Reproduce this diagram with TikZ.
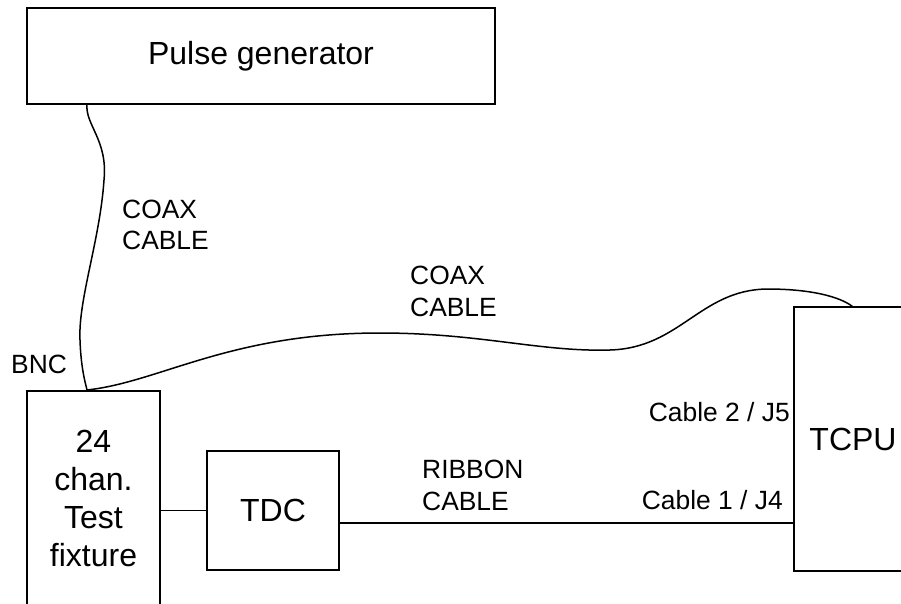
\documentclass[tikz,border=0pt]{standalone}
\usepackage{fontspec}
\setmainfont{Liberation Sans}
\usetikzlibrary{positioning}

\begin{document}
\begin{tikzpicture}[
  x=1pt, y=-1pt,
  box/.style={draw, line width=1.5pt, align=center, inner sep=0pt,
              font=\fontsize{32}{37.7}\selectfont},
  lbl/.style={inner sep=0pt, align=left, font=\fontsize{26.4}{31.5}\selectfont},
  cable/.style={line width=1.5pt}
]
\clip (0,0) rectangle (901,603);

\node[box, minimum width=468pt, minimum height=96pt] (pulse) at (261,56) {Pulse generator};
\node[box, minimum width=133pt, minimum height=215pt] (fix) at (93.5,498.5) {24\\ chan.\\ Test\\ fixture};
\node[box, minimum width=132pt, minimum height=119pt] (tdc) at (273,510.5) {TDC};
\node[box, minimum width=118pt, minimum height=264pt] (tcpu) at (853,439) {TCPU};

\coordinate (pgout) at (87,104);
\coordinate (bnc) at (87,390);
\coordinate (tcpuin) at (853,307);

% coax cables
\draw[cable] (pgout) .. controls (85,125) and (108,140) .. (104,180)
      .. controls (100,240) and (78,300) .. (80,340)
      .. controls (81,370) and (86,385) .. (bnc);
\draw[cable] (bnc) .. controls (160,382) and (230,333) .. (380,333)
      .. controls (480,333) and (540,352) .. (610,350)
      .. controls (680,348) and (700,290) .. (767,289)
      .. controls (820,289) and (845,300) .. (tcpuin);

% ribbon cable
\draw[cable] (fix.east |- tdc.west) -- (tdc.west);
\draw[cable] ([yshift=-12.5pt]tdc.east) -- ([yshift=-12.5pt]tdc.east -| tcpu.west);

\node[lbl, anchor=west] (bnclbl) at (11,364) {BNC};
\node[lbl, anchor=west] (coaxa) at (122,225) {COAX\\ CABLE};
\node[lbl, anchor=west] (coaxb) at (410,291.5) {COAX\\ CABLE};
\node[lbl, anchor=west] (ribbon) at (422,485.5) {RIBBON\\ CABLE};
\node[lbl, anchor=east] (jfive) at (790,412) {Cable 2 / J5};
\node[lbl, anchor=east] (jfour) at (783,500) {Cable 1 / J4};
\end{tikzpicture}
\end{document}
